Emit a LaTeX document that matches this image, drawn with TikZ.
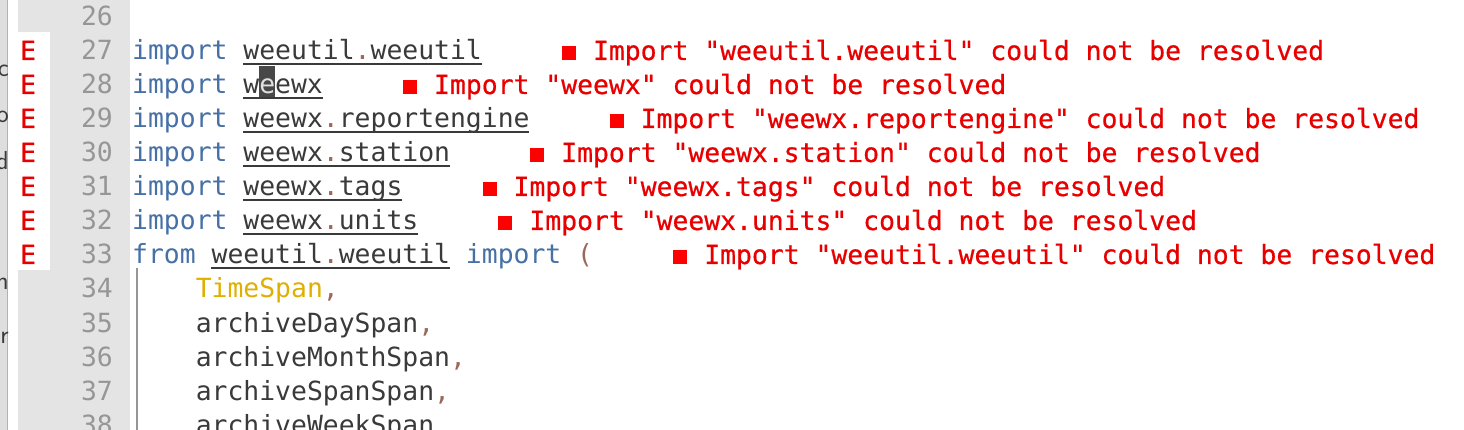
\documentclass[tikz,border=0pt]{standalone}
\usepackage{fontspec}
\setmonofont{DejaVu Sans Mono}
\newfontfamily\errorFont{DejaVu Sans Mono}[FakeBold=0.6]
\usepackage{tikz}
\usetikzlibrary{positioning}
\tikzstyle{editor} = [x = 1pt, y = -1pt]
\definecolor{gutterColor}{RGB}{228,228,228}
\definecolor{panelColor}{RGB}{222,222,222}
\definecolor{lineNumberColor}{RGB}{150,150,150}
\definecolor{keywordColor}{RGB}{70,112,166}
\definecolor{identColor}{RGB}{58,58,58}
\definecolor{punctColor}{RGB}{155,105,90}
\definecolor{classColor}{RGB}{224,176,0}
\definecolor{errorColor}{RGB}{232,0,0}
\definecolor{cursorColor}{RGB}{72,72,72}
\tikzstyle{codeText} = [font=\fontsize{26.4}{30}\selectfont\ttfamily, text=identColor, inner sep=0pt, anchor=base west]
\tikzstyle{lineNumber} = [codeText, text=lineNumberColor, anchor=base east]
\tikzstyle{errorText} = [codeText, font=\fontsize{26.4}{30}\selectfont\errorFont, text=errorColor]
\tikzstyle{panelText} = [font=\fontsize{26}{30}\selectfont\sffamily, text=identColor, inner sep=0pt, anchor=base east]
\tikzstyle{underlineStyle} = [color=identColor, line width=1.1pt]
\tikzstyle{errorSquare} = [fill=red]
\tikzstyle{indentGuide} = [color=lineNumberColor, line width=1.6pt]
\newcommand{\cw}{15.89}
\newcommand{\codeLine}[4]{\node [codeText] (#1) at ({132 + #3 * \cw}, {60 + (#2 - 27) * 34}) {#4};}
\newcommand{\moduleUnderline}[3]{\draw [underlineStyle] ({132 + #2 * \cw}, {64 + (#1 - 27) * 34}) -- +({#3 * \cw}, 0);}
\newcommand{\importError}[3]{
  \fill [errorSquare] ({132 + #2 * \cw + 1}, {60 + (#1 - 27) * 34}) rectangle +(14, -14);
  \node [errorText] (error#1) at ({132 + (#2 + 2) * \cw}, {60 + (#1 - 27) * 34}) {Import "#3" could not be resolved};
}
\newcommand{\kw}[1]{{\color{keywordColor}#1}}
\newcommand{\pt}[1]{{\color{punctColor}#1}}
\begin{document}
\begin{tikzpicture}[editor]
        \useasboundingbox (0,0) rectangle (1464,430);
        \clip (0,0) rectangle (1464,430);
        % panels
        \fill [white] (0,0) rectangle (1464,430);
        \fill [panelColor] (0,0) rectangle (7,430);
        \draw [color=gray!60] (7.5,0) -- (7.5,430);
        \fill [gutterColor] (18,0) rectangle (130,430);
        \fill [white] (18,32) rectangle (50,270);
        % cut-off text of the left panel
        \node [panelText] (cut1) at (9,77) {c};
        \node [panelText] (cut2) at (9,123) {o};
        \node [panelText] (cut3) at (9,170) {d};
        \node [panelText] (cut4) at (9,290) {n};
        \node [panelText] (cut5) at (9,343) {r};
        % gutter
        \foreach \row in {26,...,38} {
          \node [lineNumber] (number\row) at (113, {60 + (\row - 27) * 34}) {\row};
        }
        \foreach \row in {27,...,33} {
          \node [errorText] (mark\row) at (20, {60 + (\row - 27) * 34}) {E};
        }
        % code
        \codeLine{line27}{27}{0}{\kw{import} weeutil\pt{.}weeutil}
        \codeLine{line28}{28}{0}{\kw{import} w}
        \fill [cursorColor] ({132 + 8 * \cw}, 66) rectangle +(\cw, 32);
        \codeLine{cursor}{28}{8}{\textcolor{white!88!black}{e}}
        \codeLine{line28end}{28}{9}{ewx}
        \codeLine{line29}{29}{0}{\kw{import} weewx\pt{.}reportengine}
        \codeLine{line30}{30}{0}{\kw{import} weewx\pt{.}station}
        \codeLine{line31}{31}{0}{\kw{import} weewx\pt{.}tags}
        \codeLine{line32}{32}{0}{\kw{import} weewx\pt{.}units}
        \codeLine{line33}{33}{0}{\kw{from} weeutil\pt{.}weeutil \kw{import} \pt{(}}
        \codeLine{line34}{34}{4}{{\color{classColor}TimeSpan}\pt{,}}
        \codeLine{line35}{35}{4}{archiveDaySpan\pt{,}}
        \codeLine{line36}{36}{4}{archiveMonthSpan\pt{,}}
        \codeLine{line37}{37}{4}{archiveSpanSpan\pt{,}}
        \codeLine{line38}{38}{4}{archiveWeekSpan\pt{,}}
        \draw [indentGuide] (137,268) -- (137,430);
        % underlines
        \moduleUnderline{27}{7}{15}
        \moduleUnderline{28}{7}{5}
        \moduleUnderline{29}{7}{18}
        \moduleUnderline{30}{7}{13}
        \moduleUnderline{31}{7}{10}
        \moduleUnderline{32}{7}{11}
        \moduleUnderline{33}{5}{15}
        % errors
        \importError{27}{27}{weeutil.weeutil}
        \importError{28}{17}{weewx}
        \importError{29}{30}{weewx.reportengine}
        \importError{30}{25}{weewx.station}
        \importError{31}{22}{weewx.tags}
        \importError{32}{23}{weewx.units}
        \importError{33}{34}{weeutil.weeutil}
      \end{tikzpicture}
\end{document}
